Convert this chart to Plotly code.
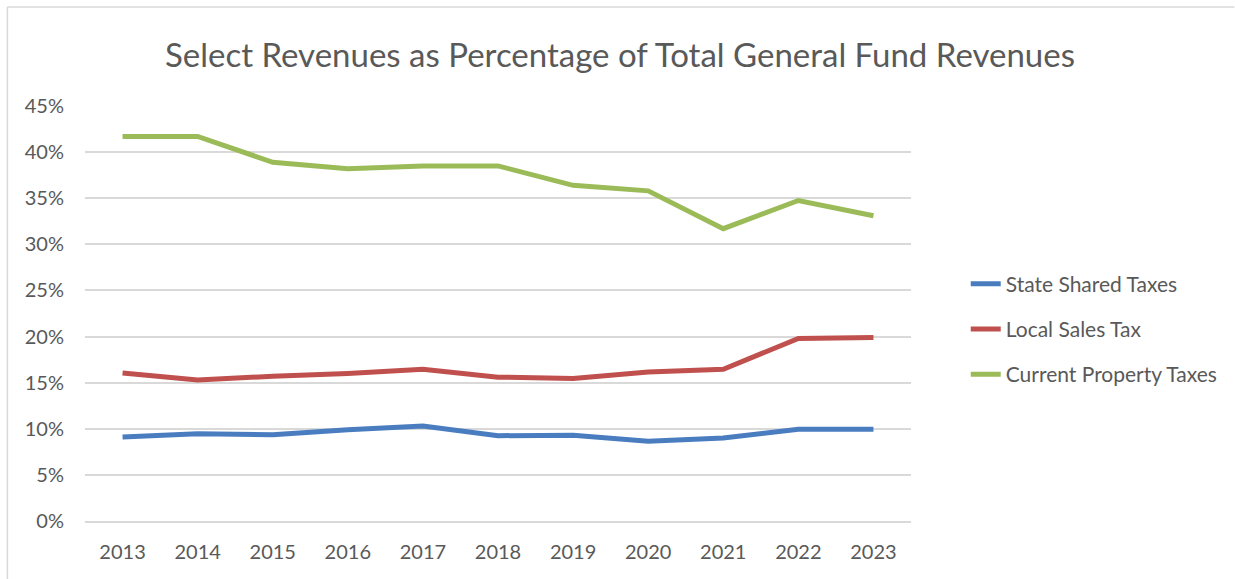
import plotly.graph_objects as go

years = ["2013", "2014", "2015", "2016", "2017", "2018", "2019", "2020", "2021", "2022", "2023"]
state_shared = [9.1, 9.45, 9.35, 9.9, 10.3, 9.25, 9.3, 8.65, 9.0, 9.95, 9.95]
local_sales = [16.05, 15.3, 15.7, 16.0, 16.45, 15.6, 15.45, 16.15, 16.45, 19.8, 19.9]
property_tax = [41.7, 41.7, 38.9, 38.2, 38.5, 38.5, 36.4, 35.8, 31.7, 34.75, 33.1]

series_names = ["State Shared Taxes", "Local Sales Tax", "Current Property Taxes"]
y_ticks = [0, 5, 10, 15, 20, 25, 30, 35, 40, 45]

FONT = "Lato, 'Open Sans', sans-serif"
GREY = "#595959"

# plot area in page pixels: x 85..915, y 106..521
L, R, T, B = 85, 915, 106, 521
W, H = 1235, 579


def px(x):
    return (x - L) / (R - L)


def py(y):
    return (B - y) / (B - T)


fig = go.Figure()
for name, vals, color in zip(series_names,
                             [state_shared, local_sales, property_tax],
                             ["#4A7DC0", "#C0504D", "#9BBB59"]):
    fig.add_trace(go.Scatter(
        x=years, y=vals, mode="lines", name=name, legendgroup=name,
        line=dict(color=color, width=5),
    ))

fig.update_layout(
    width=W, height=H, autosize=False,
    paper_bgcolor="white", plot_bgcolor="white",
    margin=dict(l=L, r=W - R, t=T, b=H - B),
    title=dict(text="Select Revenues as Percentage of Total General Fund Revenues",
               x=0.502, xanchor="center", y=1 - 55 / H, yanchor="middle",
               font=dict(family=FONT, size=33, color=GREY)),
    font=dict(family=FONT, size=20, color=GREY),
    showlegend=True,
    legend=dict(x=px(970), xanchor="left", y=py(329), yanchor="middle",
                font=dict(family=FONT, size=21, color=GREY),
                tracegroupgap=15, bgcolor="rgba(0,0,0,0)"),
    xaxis=dict(type="category", range=[-0.5, 10.5], showgrid=False, showline=True,
               linecolor="#D9D9D9", linewidth=1.5, ticks="",
               ticklabelstandoff=12, tickfont=dict(size=20, color=GREY)),
    yaxis=dict(range=[0, 45], tickvals=y_ticks,
               ticktext=[f"{v}%" for v in y_ticks],
               showgrid=True, gridcolor="#D9D9D9", gridwidth=1.5,
               zeroline=False, showline=False, ticks="",
               ticklabelstandoff=20, tickfont=dict(size=20, color=GREY)),
    shapes=[
        dict(type="line", xref="paper", yref="paper",
             x0=px(7), x1=px(W + 5), y0=py(7), y1=py(7),
             line=dict(color="#D9D9D9", width=1.5)),
        dict(type="line", xref="paper", yref="paper",
             x0=px(7), x1=px(7), y0=py(7), y1=py(H + 5),
             line=dict(color="#D9D9D9", width=1.5)),
    ],
)

fig.write_html("out.html", config={"displayModeBar": False},
               post_script="document.body.style.margin='0';")
